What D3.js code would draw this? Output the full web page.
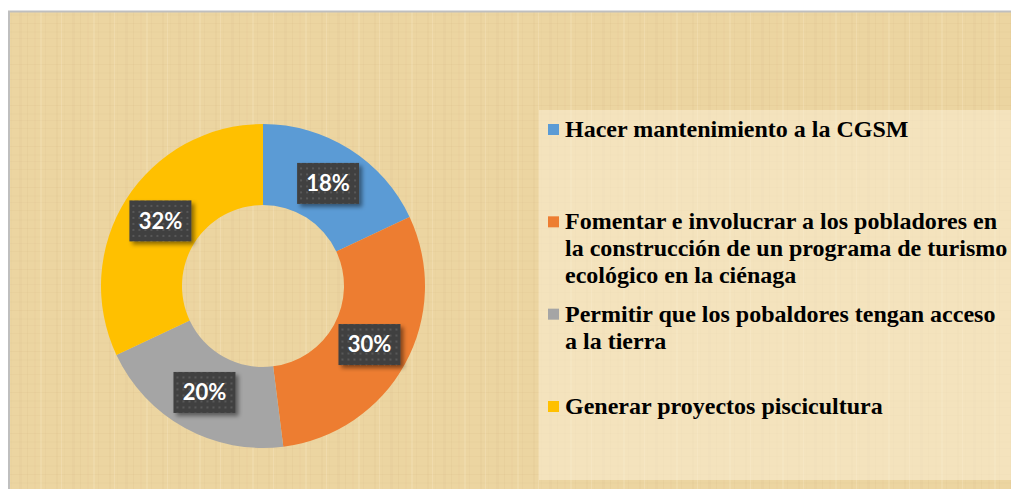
<!DOCTYPE html>
<html>
<head>
<meta charset="utf-8">
<script src="https://cdn.jsdelivr.net/npm/d3@7"></script>
<style>
  html, body { margin: 0; padding: 0; background: #ffffff; }
  svg { display: block; }
</style>
</head>
<body>
<svg id="svg"></svg>
<script>
const categories = [
  'Hacer mantenimiento a la CGSM',
  'Fomentar e involucrar a los pobladores en la construcción de un programa de turismo ecológico en la ciénaga',
  'Permitir que los pobaldores tengan acceso a la tierra',
  'Generar proyectos piscicultura'
];
const values = [18, 30, 20, 32];
const colors = ['#5b9bd5', '#ed7d31', '#a5a5a5', '#ffc000'];

const width = 1011;
const height = 489;

const svg = d3.select('#svg')
  .attr('width', width)
  .attr('height', height);

const defs = svg.append('defs');

// papyrus-ish texture, built from fixed stripes
const paper = defs.append('pattern')
  .attr('id', 'paper')
  .attr('patternUnits', 'userSpaceOnUse')
  .attr('width', 53)
  .attr('height', 41);
paper.append('rect').attr('width', 53).attr('height', 41).attr('fill', '#ecd5a1');
[[3, 2, 0.06], [11, 1, 0.04], [19, 3, 0.05], [27, 1, 0.07], [34, 2, 0.03], [45, 1, 0.05]].forEach(([x, w, o]) => {
  paper.append('rect').attr('x', x).attr('y', 0).attr('width', w).attr('height', 41)
    .attr('fill', '#b8955a').attr('opacity', o);
});
[[5, 1, 0.06], [14, 2, 0.04], [23, 1, 0.07], [31, 2, 0.04], [38, 1, 0.05]].forEach(([y, h, o]) => {
  paper.append('rect').attr('x', 0).attr('y', y).attr('width', 53).attr('height', h)
    .attr('fill', '#b8955a').attr('opacity', o);
});
[[8, 1, 0.2], [40, 2, 0.15]].forEach(([x, w, o]) => {
  paper.append('rect').attr('x', x).attr('y', 0).attr('width', w).attr('height', 41)
    .attr('fill', '#fff6dc').attr('opacity', o);
});

const dots = defs.append('pattern')
  .attr('id', 'dots')
  .attr('patternUnits', 'userSpaceOnUse')
  .attr('width', 6)
  .attr('height', 6);
dots.append('rect').attr('width', 6).attr('height', 6).attr('fill', '#404040');
dots.append('rect').attr('x', 2).attr('y', 2).attr('width', 2).attr('height', 2).attr('fill', '#585858');

const shadow = defs.append('filter')
  .attr('id', 'shadow')
  .attr('x', '-30%').attr('y', '-30%')
  .attr('width', '160%').attr('height', '160%');
shadow.append('feDropShadow')
  .attr('dx', 3).attr('dy', 3)
  .attr('stdDeviation', 2)
  .attr('flood-color', '#000')
  .attr('flood-opacity', 0.45);

// background + frame
svg.append('rect')
  .attr('x', 9).attr('y', 12)
  .attr('width', width - 9).attr('height', height - 12)
  .attr('fill', 'url(#paper)');
svg.append('path')
  .attr('d', `M9,${height} V11.5 H${width}`)
  .attr('fill', 'none')
  .attr('stroke', '#bfbfbf')
  .attr('stroke-width', 2);

// donut
const cx = 263, cy = 286;
const outerR = 162, innerR = 81;

const pie = d3.pie().sort(null).value(d => d);
const arcs = pie(values);
const arc = d3.arc().innerRadius(innerR).outerRadius(outerR);
const labelArc = d3.arc().innerRadius((innerR + outerR) / 2).outerRadius((innerR + outerR) / 2);

const g = svg.append('g').attr('transform', `translate(${cx},${cy})`);

g.selectAll('path.slice')
  .data(arcs)
  .enter()
  .append('path')
  .attr('class', 'slice')
  .attr('d', arc)
  .attr('fill', (d, i) => colors[i]);

const labels = g.selectAll('g.label')
  .data(arcs)
  .enter()
  .append('g')
  .attr('class', 'label')
  .attr('transform', d => `translate(${labelArc.centroid(d)})`);

labels.append('rect')
  .attr('x', -31).attr('y', -20.5)
  .attr('width', 62).attr('height', 41)
  .attr('fill', 'url(#dots)')
  .attr('filter', 'url(#shadow)');

labels.append('text')
  .attr('text-anchor', 'middle')
  .attr('dy', '0.36em')
  .attr('fill', '#ffffff')
  .style('font-family', 'Lato, "Open Sans", sans-serif')
  .style('font-weight', 'bold')
  .style('font-size', '22px')
  .text(d => d.data + '%');

// legend
svg.append('rect')
  .attr('x', 539).attr('y', 110)
  .attr('width', width - 539).attr('height', 370)
  .attr('fill', '#fbf1da')
  .attr('opacity', 0.5);

const legendY = d3.scaleLinear().domain([0, categories.length - 1]).range([137, 414]);
const lineH = 27;
const wrapWidth = 446;

const legend = svg.append('g')
  .style('font-family', '"Liberation Serif", "Times New Roman", serif')
  .style('font-weight', 'bold')
  .style('font-size', '24px');

categories.forEach((label, i) => {
  const item = legend.append('g').attr('transform', `translate(0,${legendY(i)})`);
  item.append('rect')
    .attr('x', 548).attr('y', -13)
    .attr('width', 11).attr('height', 11)
    .attr('fill', colors[i]);
  const text = item.append('text').attr('x', 565).attr('fill', '#000000');
  const words = label.split(' ');
  let line = [];
  let lineNo = 0;
  let tspan = text.append('tspan').attr('x', 565).attr('y', 0);
  words.forEach(w => {
    line.push(w);
    tspan.text(line.join(' '));
    if (tspan.node().getComputedTextLength() > wrapWidth && line.length > 1) {
      line.pop();
      tspan.text(line.join(' '));
      line = [w];
      lineNo++;
      tspan = text.append('tspan').attr('x', 565).attr('y', lineNo * lineH).text(w);
    }
  });
});
</script>
</body>
</html>
